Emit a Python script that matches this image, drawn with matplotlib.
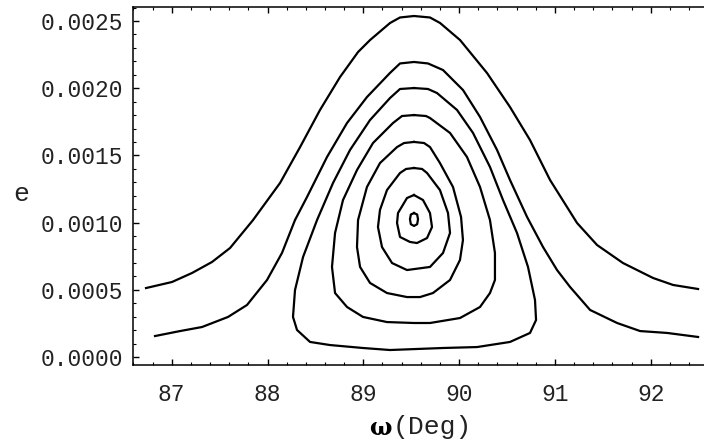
import matplotlib
matplotlib.use("Agg")
import matplotlib.pyplot as plt
from matplotlib.ticker import MultipleLocator

# contour lines: omega in degrees, e
open1_w = [86.732, 87.003, 87.212, 87.421, 87.609, 87.849, 88.131, 88.340, 88.548,
           88.757, 88.945, 89.070, 89.279, 89.383, 89.529, 89.696, 89.801, 90.010,
           90.291, 90.531, 90.740, 90.949, 91.231, 91.440, 91.711, 92.024, 92.233,
           92.494]
open1_e = [0.000513, 0.000558, 0.000625, 0.000707, 0.000811, 0.001019, 0.001295,
           0.001562, 0.001838, 0.002083, 0.002269, 0.002358, 0.002485, 0.002526,
           0.002537, 0.002526, 0.002485, 0.002358, 0.002113, 0.001860, 0.001614,
           0.001317, 0.000997, 0.000833, 0.000699, 0.000588, 0.000536, 0.000506]

open2_w = [86.826, 87.087, 87.316, 87.588, 87.786, 87.995, 88.151, 88.287, 88.412,
           88.621, 88.830, 89.038, 89.278, 89.383, 89.529, 89.675, 89.832, 90.041,
           90.218, 90.396, 90.531, 90.709, 90.876, 91.022, 91.158, 91.367, 91.649,
           91.889, 92.171, 92.494]
open2_e = [0.000156, 0.000193, 0.000223, 0.000298, 0.000387, 0.000573, 0.000774,
           0.001019, 0.001190, 0.001488, 0.001741, 0.001934, 0.002113, 0.002184,
           0.002195, 0.002184, 0.002135, 0.001986, 0.001786, 0.001540, 0.001317,
           0.001042, 0.000818, 0.000647, 0.000521, 0.000350, 0.000253, 0.000193,
           0.000179, 0.000149]

loop1_w = [89.529, 89.383, 89.279, 89.070, 88.861, 88.684, 88.517, 88.371, 88.287,
           88.266, 88.308, 88.444, 88.652, 88.996, 89.278, 89.832, 90.187, 90.531,
           90.740, 90.803, 90.792, 90.719, 90.604, 90.458, 90.322, 90.145, 89.978,
           89.769, 89.675, 89.529]
loop1_e = [0.002001, 0.001994, 0.001927, 0.001763, 0.001540, 0.001295, 0.001019,
           0.000744, 0.000498, 0.000298, 0.000201, 0.000112, 0.000089, 0.000067,
           0.000052, 0.000067, 0.000074, 0.000112, 0.000179, 0.000275, 0.000424,
           0.000670, 0.000923, 0.001168, 0.001414, 0.001667, 0.001838, 0.001964,
           0.001994, 0.002001]

loop2_w = [89.529, 89.404, 89.310, 89.101, 88.934, 88.788, 88.705, 88.673, 88.705,
           88.830, 88.997, 89.247, 89.529, 89.696, 90.009, 90.218, 90.322, 90.374,
           90.374, 90.322, 90.218, 90.082, 89.905, 89.696, 89.654, 89.529]
loop2_e = [0.001800, 0.001793, 0.001741, 0.001592, 0.001391, 0.001168, 0.000923,
           0.000670, 0.000476, 0.000372, 0.000298, 0.000260, 0.000253, 0.000253,
           0.000290, 0.000372, 0.000476, 0.000573, 0.000774, 0.001019, 0.001265,
           0.001488, 0.001667, 0.001778, 0.001793, 0.001800]

loop3_w = [89.529, 89.425, 89.352, 89.174, 89.038, 88.945, 88.934, 88.966, 89.070,
           89.247, 89.456, 89.592, 89.727, 89.905, 90.009, 90.040, 90.020, 89.936,
           89.800, 89.696, 89.634, 89.529]
loop3_e = [0.001600, 0.001592, 0.001562, 0.001443, 0.001265, 0.001019, 0.000818,
           0.000670, 0.000551, 0.000476, 0.000446, 0.000446, 0.000476, 0.000573,
           0.000722, 0.000870, 0.001042, 0.001265, 0.001443, 0.001562, 0.001592,
           0.001600]

loop4_w = [89.529, 89.446, 89.383, 89.247, 89.174, 89.153, 89.195, 89.300, 89.456,
           89.696, 89.832, 89.905, 89.884, 89.800, 89.665, 89.613, 89.529]
loop4_e = [0.001406, 0.001399, 0.001369, 0.001242, 0.001094, 0.000967, 0.000818,
           0.000699, 0.000647, 0.000670, 0.000774, 0.000923, 0.001071, 0.001242,
           0.001369, 0.001399, 0.001406]

loop5_w = [89.529, 89.456, 89.362, 89.352, 89.383, 89.487, 89.560, 89.665, 89.717,
           89.696, 89.623, 89.529]
loop5_e = [0.001205, 0.001183, 0.001071, 0.000997, 0.000893, 0.000856, 0.000848,
           0.000885, 0.000967, 0.001071, 0.001168, 0.001205]

loop6_w = [89.529, 89.496, 89.487, 89.496, 89.529, 89.562, 89.571, 89.562, 89.529]
loop6_e = [0.001071, 0.001060, 0.001025, 0.000988, 0.000975, 0.000988, 0.001025,
           0.001060, 0.001071]

curves = [(open1_w, open1_e), (open2_w, open2_e), (loop1_w, loop1_e),
          (loop2_w, loop2_e), (loop3_w, loop3_e), (loop4_w, loop4_e),
          (loop5_w, loop5_e), (loop6_w, loop6_e)]

x_ticks = [87, 88, 89, 90, 91, 92]
y_ticks = [0.0, 0.0005, 0.0010, 0.0015, 0.0020, 0.0025]
y_labels = ["0.0000", "0.0005", "0.0010", "0.0015", "0.0020", "0.0025"]

mono = "Liberation Mono"

fig = plt.figure(figsize=(7.04, 4.41), dpi=100)
ax = fig.add_axes([133 / 704, 76 / 441, 571 / 704, 358 / 441])

for w, e in curves:
    ax.plot(w, e, color="black", lw=1.6, solid_joinstyle="round")

ax.set_xlim(86.596, 92.556)
ax.set_ylim(-0.0000595, 0.002604)

ax.set_xticks(x_ticks)
ax.set_xticklabels([str(t) for t in x_ticks], family=mono, fontsize=16.5)
ax.set_yticks(y_ticks)
ax.set_yticklabels(y_labels, family=mono, fontsize=16.5)
ax.xaxis.set_minor_locator(MultipleLocator(0.2))
ax.yaxis.set_minor_locator(MultipleLocator(0.0001))

ax.tick_params(which="both", direction="in", top=True, right=False, color="black",
               labelcolor="#222222")
ax.tick_params(which="major", length=4.5, width=1.0)
ax.tick_params(which="minor", length=2.5, width=0.8)
ax.tick_params(axis="x", which="major", pad=13)
ax.tick_params(axis="y", which="major", pad=7)

ax.spines["right"].set_visible(False)
for s in ["left", "bottom", "top"]:
    ax.spines[s].set_linewidth(1.1)

fig.text(380 / 704, 1 - 428 / 441, "\u03c9", family="DejaVu Serif", weight="bold",
         fontsize=17, ha="center", va="center")
fig.text(432 / 704, 1 - 427 / 441, "(Deg)", family=mono, fontsize=19,
         ha="center", va="center", color="#222222")
fig.text(21 / 704, 1 - 194 / 441, "e", family=mono, fontsize=19,
         ha="center", va="center", color="#222222")

fig.savefig("out.png", dpi=100)
